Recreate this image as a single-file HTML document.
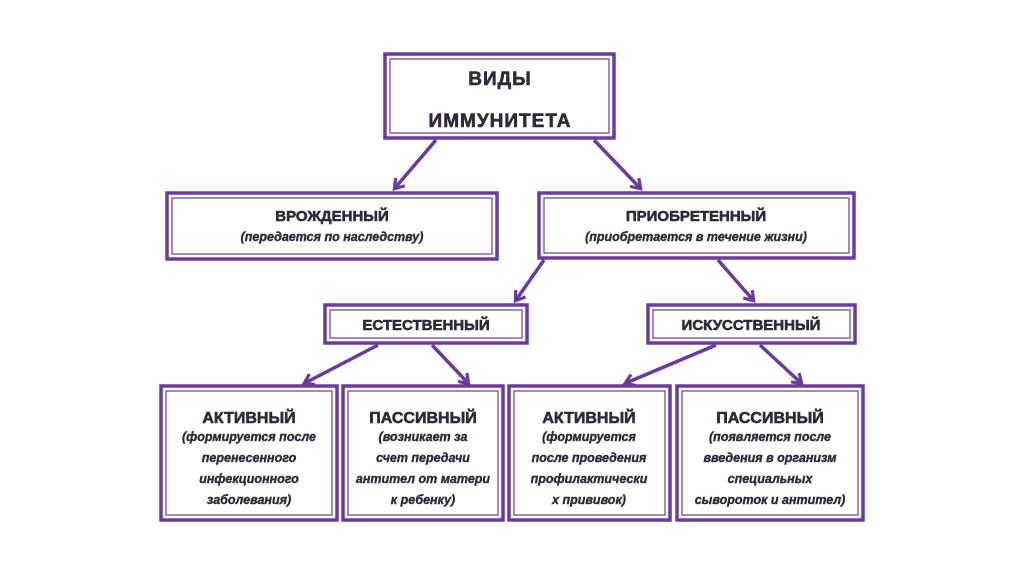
<!DOCTYPE html>
<html><head><meta charset="utf-8"><style>
html,body{margin:0;padding:0;background:#fff;}
svg{display:block}
text{font-family:"Liberation Sans","DejaVu Sans",sans-serif;fill:#2e2a38;stroke:#2e2a38;stroke-width:0.6;font-weight:bold;text-anchor:middle}
.i{font-style:italic;font-size:12.5px;stroke-width:0.4}
</style></head><body>
<svg width="1024" height="574" viewBox="0 0 1024 574">
<defs>
<marker id="a" markerWidth="14" markerHeight="14" refX="9" refY="7" orient="auto" markerUnits="userSpaceOnUse">
<path d="M1,1 L10,7 L1,13" fill="none" stroke="#6a3aa0" stroke-width="3.2"/>
</marker>
</defs>
<g fill="none" stroke="#6a3aa0">
<g stroke-width="3.5">
<rect x="385" y="54" width="229" height="84"/>
<rect x="167" y="193" width="330" height="66"/>
<rect x="539" y="193" width="315" height="65"/>
<rect x="325" y="305" width="202" height="38"/>
<rect x="648" y="305" width="207" height="38"/>
<rect x="161" y="386" width="176" height="134"/>
<rect x="343" y="386" width="160" height="134"/>
<rect x="509" y="386" width="161" height="134"/>
<rect x="677" y="386" width="186" height="134"/>
</g>
<g stroke-width="1.2">
<rect x="390" y="59" width="219" height="74"/>
<rect x="172" y="198" width="320" height="56"/>
<rect x="544" y="198" width="305" height="55"/>
<rect x="330" y="310" width="192" height="28"/>
<rect x="653" y="310" width="197" height="28"/>
<rect x="166" y="391" width="166" height="124"/>
<rect x="348" y="391" width="150" height="124"/>
<rect x="514" y="391" width="151" height="124"/>
<rect x="682" y="391" width="176" height="124"/>
</g>
<g stroke-width="3.5" marker-end="url(#a)">
<line x1="436" y1="140" x2="395" y2="188"/>
<line x1="594" y1="140" x2="640" y2="188"/>
<line x1="544" y1="260" x2="516" y2="300"/>
<line x1="718" y1="260" x2="753" y2="300"/>
<line x1="378" y1="345" x2="305" y2="383"/>
<line x1="432" y1="345" x2="468" y2="383"/>
<line x1="716" y1="345" x2="626" y2="383"/>
<line x1="760" y1="345" x2="801" y2="383"/>
</g>
</g>
<text x="500" y="85" font-size="19" letter-spacing="1">ВИДЫ</text>
<text x="500" y="127" font-size="19" letter-spacing="1">ИММУНИТЕТА</text>
<text x="332" y="221" font-size="15">ВРОЖДЕННЫЙ</text>
<text x="332" y="241" class="i" font-size="12">(передается по наследству)</text>
<text x="696" y="221" font-size="15">ПРИОБРЕТЕННЫЙ</text>
<text x="696" y="241" class="i" font-size="12">(приобретается в течение жизни)</text>
<text x="426" y="330" font-size="15">ЕСТЕСТВЕННЫЙ</text>
<text x="751" y="330" font-size="15">ИСКУССТВЕННЫЙ</text>
<g font-size="16">
<text x="249" y="423">АКТИВНЫЙ</text>
<text x="423" y="423">ПАССИВНЫЙ</text>
<text x="589" y="423">АКТИВНЫЙ</text>
<text x="770" y="423">ПАССИВНЫЙ</text>
</g>
<text class="i" x="249" y="441">(формируется после</text>
<text class="i" x="249" y="462">перенесенного</text>
<text class="i" x="249" y="483">инфекционного</text>
<text class="i" x="249" y="504">заболевания)</text>
<text class="i" x="423" y="441">(возникает за</text>
<text class="i" x="423" y="462">счет передачи</text>
<text class="i" x="423" y="483">антител от матери</text>
<text class="i" x="423" y="504">к ребенку)</text>
<text class="i" x="589" y="441">(формируется</text>
<text class="i" x="589" y="462">после проведения</text>
<text class="i" x="589" y="483">профилактически</text>
<text class="i" x="589" y="504">х прививок)</text>
<text class="i" x="770" y="441">(появляется после</text>
<text class="i" x="770" y="462">введения в организм</text>
<text class="i" x="770" y="483">специальных</text>
<text class="i" x="770" y="504">сывороток и антител)</text>
</svg>
</body></html>
